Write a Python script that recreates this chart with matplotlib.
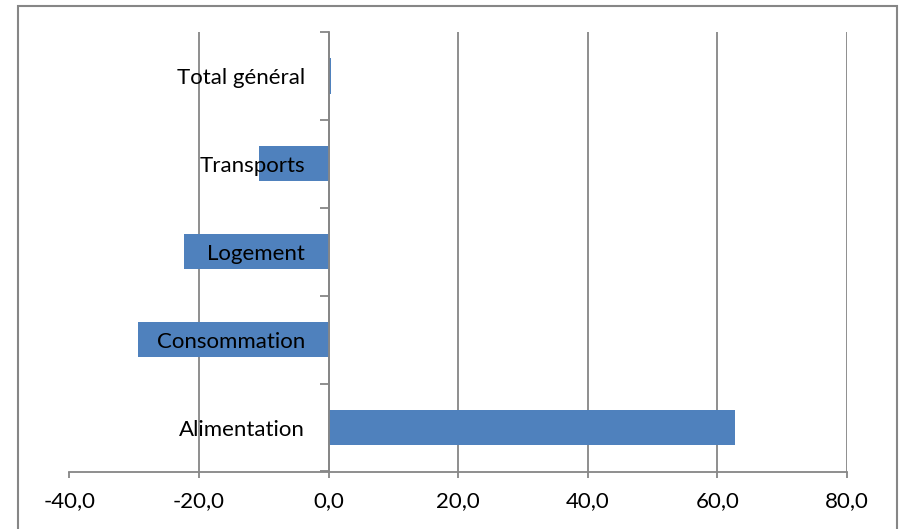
import matplotlib.pyplot as plt
from matplotlib.patches import Rectangle
from matplotlib.ticker import FixedLocator, FuncFormatter

plt.rcParams['font.family'] = ['Lato', 'DejaVu Sans']

# Data (bottom to top)
categories = ['Alimentation', 'Consommation', 'Logement', 'Transports', 'Total général']
values = [62.7, -29.4, -22.3, -10.8, 0.3]
x_ticks = [-40, -20, 0, 20, 40, 60, 80]

grey = '#868686'
bar_color = '#4F81BD'

fig = plt.figure(figsize=(9.01, 5.29), dpi=100)
ax = fig.add_axes([69.5 / 901, 1 - 471.5 / 529, (847 - 69.5) / 901, (471.5 - 32) / 529])

# Outer chart border
fig.patches.append(Rectangle((18 / 901, -0.1), (897 - 18) / 901, 1.1 - 6 / 529,
                             transform=fig.transFigure, fill=False,
                             edgecolor=grey, linewidth=1.5))

ypos = list(range(len(categories)))
ax.barh(ypos, values, height=0.4, color=bar_color, zorder=1)

# vertical gridlines behind the bars
for t in x_ticks:
    ax.axvline(t, color=grey, linewidth=1.3, zorder=0.5)

ax.set_xlim(-40, 80)
ax.set_ylim(-0.5, len(categories) - 0.5)
ax.set_xticks(x_ticks)
ax.xaxis.set_major_formatter(FuncFormatter(lambda v, p: f'{v:.1f}'.replace('.', ',')))

ax.spines['left'].set_position(('data', 0))
ax.spines['top'].set_visible(False)
ax.spines['right'].set_visible(False)
for s in ('left', 'bottom'):
    ax.spines[s].set_color(grey)
    ax.spines[s].set_linewidth(1.3)

ax.set_yticks(ypos)
ax.set_yticklabels(categories)
ax.yaxis.set_minor_locator(FixedLocator([y - 0.5 for y in range(len(categories) + 1)]))
ax.tick_params(axis='y', which='major', length=0, pad=17, labelsize=16)
ax.tick_params(axis='y', which='minor', length=6.5, width=1.3, color=grey, direction='out')
ax.tick_params(axis='x', which='major', length=4, width=1.3, color=grey, pad=10, labelsize=16)

fig.savefig('out.png', dpi=100, facecolor='white')
